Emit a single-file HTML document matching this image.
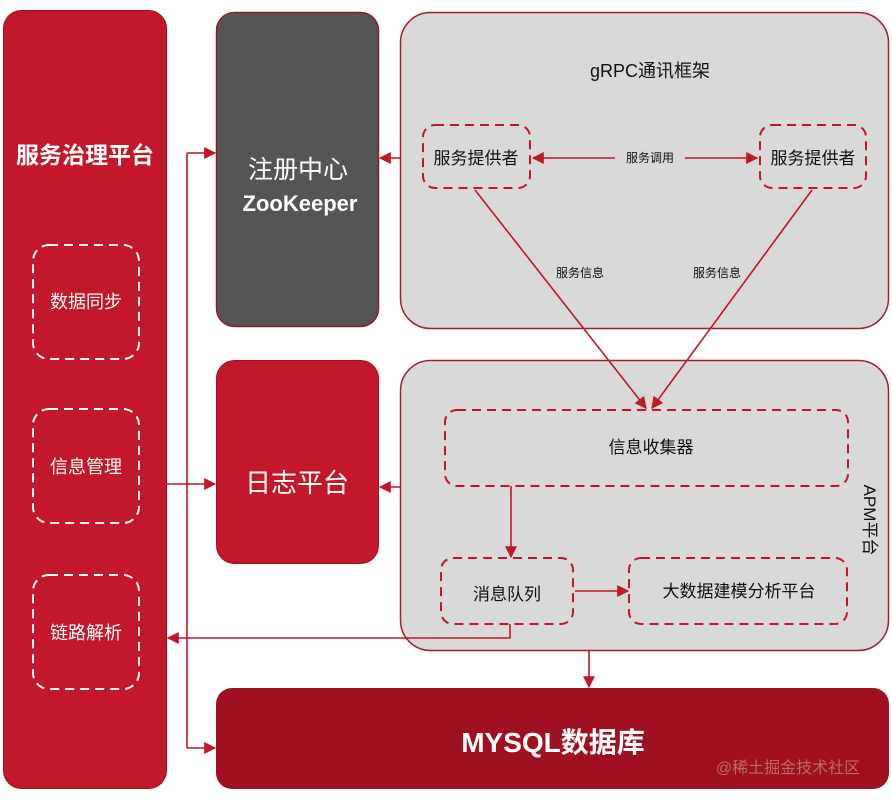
<!DOCTYPE html>
<html><head><meta charset="utf-8"><style>
html,body{margin:0;padding:0;background:#fff;}
svg{display:block;}
text{font-family:"Liberation Sans","Noto Sans CJK SC",sans-serif;}
</style></head><body>
<svg width="892" height="800" viewBox="0 0 892 800" xmlns="http://www.w3.org/2000/svg">
<defs>
<marker id="a" viewBox="0 0 10 10" refX="9" refY="5" markerWidth="8" markerHeight="8" markerUnits="userSpaceOnUse" orient="auto-start-reverse"><path d="M0,0 L10,5 L0,10 z" fill="#c0172a"/></marker>
<marker id="b" viewBox="0 0 10 10" refX="9" refY="5" markerWidth="12" markerHeight="12" markerUnits="userSpaceOnUse" orient="auto-start-reverse"><path d="M0,0 L10,5 L0,10 z" fill="#c0172a"/></marker>
</defs>
<rect x="3.5" y="10.5" width="163" height="778" rx="18" fill="#c3172a" stroke="#9e1020"/>
<text x="85" y="163" fill="#fff" font-size="23" font-weight="bold" text-anchor="middle">服务治理平台</text>
<g fill="none" stroke="#fff" stroke-width="2" stroke-dasharray="9,6">
<rect x="33" y="245" width="106" height="114" rx="16"/>
<rect x="33" y="409" width="106" height="114" rx="16"/>
<rect x="33" y="575" width="106" height="114" rx="16"/>
</g>
<g fill="#fff" font-size="18" text-anchor="middle">
<text x="86" y="308">数据同步</text>
<text x="86" y="473">信息管理</text>
<text x="86" y="639">链路解析</text>
</g>
<rect x="216.5" y="12.5" width="162" height="314" rx="18" fill="#555" stroke="#8e1a28" stroke-width="1.5"/>
<text x="298" y="178" fill="#fff" font-size="25" text-anchor="middle">注册中心</text>
<text x="300" y="211" fill="#fff" font-size="22" font-weight="bold" text-anchor="middle">ZooKeeper</text>
<rect x="216.5" y="360.5" width="162" height="203" rx="18" fill="#c3172a" stroke="#9e1020"/>
<text x="297" y="492" fill="#fff" font-size="26" text-anchor="middle">日志平台</text>
<rect x="400.5" y="12.5" width="488" height="316" rx="30" fill="#d9d9d9" stroke="#a51c2e" stroke-width="1.5"/>
<text x="650" y="77" fill="#111" font-size="18" text-anchor="middle">gRPC通讯框架</text>
<rect x="400.5" y="360.5" width="488" height="290" rx="30" fill="#d9d9d9" stroke="#a51c2e" stroke-width="1.5"/>
<text transform="translate(864,520) rotate(90)" fill="#111" font-size="17" text-anchor="middle">APM平台</text>
<rect x="216" y="688" width="673" height="101" rx="16" fill="#9f1120"/>
<text x="553" y="752" fill="#fff" font-size="28" font-weight="bold" text-anchor="middle">MYSQL数据库</text>
<text x="788" y="773" fill="#b46a72" font-size="16" text-anchor="middle">@稀土掘金技术社区</text>
<g fill="none" stroke="#c0172a" stroke-width="2" stroke-dasharray="9,6">
<rect x="423" y="125" width="107" height="63" rx="12"/>
<rect x="760" y="125" width="106" height="63" rx="12"/>
<rect x="445" y="410" width="403" height="76" rx="12"/>
<rect x="441" y="558" width="132" height="66" rx="12"/>
<rect x="629" y="558" width="218" height="66" rx="12"/>
</g>
<g fill="#111" text-anchor="middle">
<text x="476" y="164" font-size="17">服务提供者</text>
<text x="813" y="164" font-size="17">服务提供者</text>
<text x="651" y="453" font-size="17">信息收集器</text>
<text x="507" y="600" font-size="17">消息队列</text>
<text x="739" y="597" font-size="17">大数据建模分析平台</text>
<text x="650" y="162" font-size="12">服务调用</text>
<text x="580" y="277" font-size="12">服务信息</text>
<text x="717" y="277" font-size="12">服务信息</text>
</g>
<g fill="none" stroke="#c0172a" stroke-width="1.6">
<path d="M187,153 V748"/>
<path d="M187,153 H215" marker-end="url(#b)"/>
<path d="M166,484 H215" marker-end="url(#b)"/>
<path d="M187,748 H215" marker-end="url(#b)"/>
<path d="M400,158 H380" marker-end="url(#b)"/>
<path d="M400,487 H380" marker-end="url(#b)"/>
<path d="M615,158 H533" marker-end="url(#b)"/>
<path d="M685,158 H757" marker-end="url(#b)"/>
<path d="M475,190 L646,408" marker-end="url(#b)"/>
<path d="M812,190 L652,408" marker-end="url(#b)"/>
<path d="M511,486 V557" marker-end="url(#b)"/>
<path d="M575,591 H628" marker-end="url(#b)"/>
<path d="M510,624 V638 H168" marker-end="url(#b)"/>
<path d="M589,651 V687" marker-end="url(#b)"/>
</g>
</svg>
</body></html>
